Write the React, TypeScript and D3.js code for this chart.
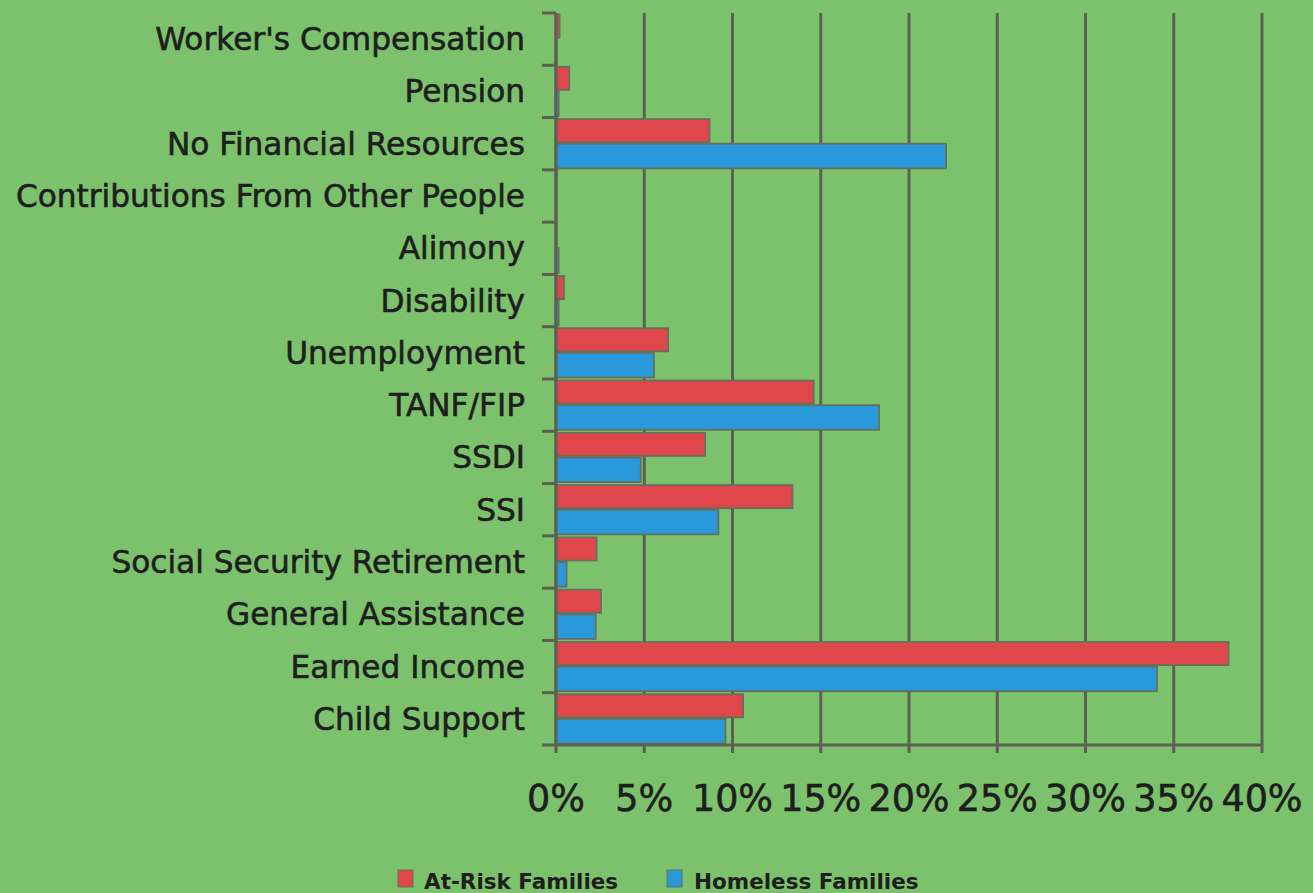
import React from "react";
import * as d3 from "d3";

const categories = [
  "Worker's Compensation",
  "Pension",
  "No Financial Resources",
  "Contributions From Other People",
  "Alimony",
  "Disability",
  "Unemployment",
  "TANF/FIP",
  "SSDI",
  "SSI",
  "Social Security Retirement",
  "General Assistance",
  "Earned Income",
  "Child Support",
];
const atRisk = [0.2, 0.75, 8.7, 0, 0, 0.45, 6.35, 14.6, 8.45, 13.4, 2.3, 2.55, 38.1, 10.6];
const homeless = [0, 0.15, 22.1, 0, 0.15, 0.15, 5.55, 18.3, 4.8, 9.2, 0.6, 2.25, 34.05, 9.6];
const xTicks = [0, 5, 10, 15, 20, 25, 30, 35, 40];
const seriesNames = ["At-Risk Families", "Homeless Families"];
const seriesColors = ["#e0474d", "#2a99db"];

const W = 1313;
const H = 893;
const left = 556;
const right = 1262;
const top = 13;
const bottom = 745;
const bg = "#7cc26c";
const axisColor = "#5b6052";
const textColor = "#1e1e1e";
const font = "'DejaVu Sans', Verdana, sans-serif";

export default function App() {
  const x = d3.scaleLinear().domain([0, 40]).range([left, right]);
  const y = d3.scaleBand<string>().domain(categories).range([top, bottom]).paddingInner(0).paddingOuter(0);
  const bw = y.bandwidth();
  const boundaries = d3.range(categories.length + 1).map((i) => top + i * bw);

  return (
    <svg width={W} height={H} style={{ position: "absolute", left: 0, top: 0, background: bg }}>
      <rect x={0} y={0} width={W} height={H} fill={bg} />
      {/* gridlines */}
      {xTicks.map((t) => (
        <line key={"g" + t} x1={x(t)} x2={x(t)} y1={top} y2={bottom + 8} stroke={axisColor} strokeWidth={3} />
      ))}
      {/* bars */}
      {categories.map((c, i) => {
        const y0 = y(c)!;
        const mid = y0 + bw / 2;
        return (
          <g key={c}>
            {atRisk[i] > 0 && (
              <rect x={x(0)} y={y0 + 1.5} width={x(atRisk[i]) - x(0)} height={mid - y0 - 3}
                fill={seriesColors[0]} stroke="#66705c" strokeWidth={1.8} />
            )}
            {homeless[i] > 0 && (
              <rect x={x(0)} y={mid} width={x(homeless[i]) - x(0)} height={bw / 2 - 1.5}
                fill={seriesColors[1]} stroke="#66705c" strokeWidth={1.8} />
            )}
          </g>
        );
      })}
      {/* axes */}
      <line x1={left} x2={left} y1={top} y2={bottom} stroke={axisColor} strokeWidth={3} />
      <line x1={left} x2={right} y1={bottom} y2={bottom} stroke={axisColor} strokeWidth={3} />
      {boundaries.map((b, i) => (
        <line key={"t" + i} x1={left - 14} x2={left} y1={b} y2={b} stroke={axisColor} strokeWidth={3} />
      ))}
      {/* category labels */}
      {categories.map((c) => (
        <text key={"l" + c} x={525} y={y(c)! + bw / 2 + 11} textAnchor="end"
          fontFamily={font} fontSize={31.2} fill={textColor} stroke={textColor} strokeWidth={0.6}>{c}</text>
      ))}
      {/* x tick labels */}
      {xTicks.map((t) => (
        <text key={"x" + t} x={x(t)} y={811} textAnchor="middle" fontFamily={font} fontSize={36.5}
          fill={textColor} stroke={textColor} strokeWidth={0.6}>
          {t + "%"}
        </text>
      ))}
      {/* legend */}
      <rect x={398} y={870} width={15} height={17} fill={seriesColors[0]} stroke="#66705c" strokeWidth={1} />
      <text x={424} y={889} fontFamily={font} fontSize={21.5} fontWeight="bold" fill={textColor}>{seriesNames[0]}</text>
      <rect x={667} y={870} width={15} height={17} fill={seriesColors[1]} stroke="#66705c" strokeWidth={1} />
      <text x={694} y={889} fontFamily={font} fontSize={21.5} fontWeight="bold" fill={textColor}>{seriesNames[1]}</text>
    </svg>
  );
}
